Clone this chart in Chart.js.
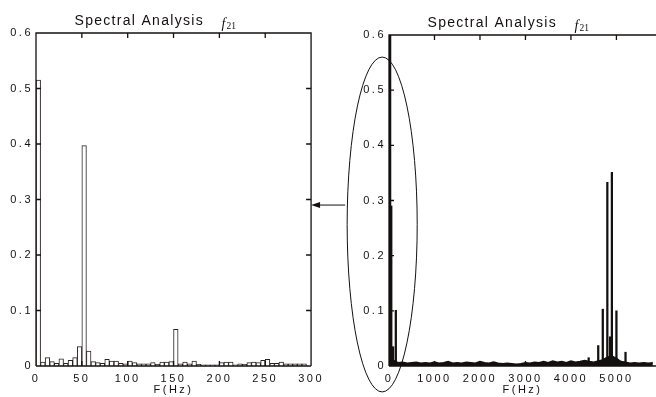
<!DOCTYPE html>
<html>
<head>
<meta charset="utf-8">
<script src="https://cdn.jsdelivr.net/npm/chart.js@4.4.0/dist/chart.umd.min.js"></script>
<style>
  html, body { margin: 0; padding: 0; background: #fff; }
  #wrap { position: relative; width: 656px; height: 397px; overflow: hidden; }
  #izq { position: absolute; left: 0; top: 0; }
  #der { position: absolute; left: 330px; top: 0; }
  #capa { position: absolute; left: 0; top: 0; pointer-events: none; }
</style>
</head>
<body>
<div id="wrap">
  <canvas id="izq" width="330" height="397"></canvas>
  <canvas id="der" width="326" height="397"></canvas>
  <canvas id="capa" width="656" height="397"></canvas>
</div>
<script>
// --- datos ---
// izquierda: detalle 0-300 Hz, barras de 5 Hz (inicio de cada bin)
const binsIzq = [0, 5, 10, 15, 20, 25, 30, 35, 40, 45, 50, 55, 60, 65, 70, 75, 80, 85, 90, 95,
  100, 105, 110, 115, 120, 125, 130, 135, 140, 145, 150, 155, 160, 165, 170, 175, 180, 185, 190, 195,
  200, 205, 210, 215, 220, 225, 230, 235, 240, 245, 250, 255, 260, 265, 270, 275, 280, 285, 290];
const ampIzq = [0.515, 0.007, 0.015, 0.008, 0.005, 0.013, 0.005, 0.010, 0.015, 0.035, 0.397, 0.027, 0.008, 0.006, 0.005, 0.012, 0.009, 0.009, 0.005, 0.004,
  0.009, 0.006, 0.004, 0.004, 0.004, 0.006, 0.003, 0.007, 0.007, 0.008, 0.066, 0.004, 0.007, 0.004, 0.009, 0.003, 0.002, 0.002, 0.002, 0.002,
  0.006, 0.007, 0.007, 0.002, 0.004, 0.003, 0.006, 0.007, 0.006, 0.010, 0.012, 0.005, 0.005, 0.007, 0.004, 0.004, 0.004, 0.004, 0.004];
const anchoBin = 5;

// derecha: espectro completo, piso de ruido cada 100 Hz + picos
const frecRuido = [0, 100, 200, 300, 400, 500, 600, 700, 800, 900, 1000, 1100, 1200, 1300, 1400, 1500, 1600, 1700, 1800, 1900,
  2000, 2100, 2200, 2300, 2400, 2500, 2600, 2700, 2800, 2900, 3000, 3100, 3200, 3300, 3400, 3500, 3600, 3700, 3800, 3900,
  4000, 4100, 4200, 4300, 4400, 4500, 4600, 4700, 4800, 4900, 5000, 5100, 5200, 5300, 5400, 5500, 5600, 5700, 5800];
const ampRuido = [0.012, 0.010, 0.006, 0.007, 0.005, 0.006, 0.007, 0.005, 0.006, 0.005, 0.007, 0.005, 0.006, 0.008, 0.005, 0.006, 0.005, 0.007, 0.006, 0.005,
  0.008, 0.006, 0.005, 0.007, 0.005, 0.004, 0.005, 0.004, 0.003, 0.004, 0.006, 0.005, 0.007, 0.006, 0.008, 0.006, 0.009, 0.007, 0.008, 0.006,
  0.009, 0.007, 0.008, 0.010, 0.008, 0.007, 0.009, 0.011, 0.016, 0.018, 0.014, 0.008, 0.007, 0.005, 0.006, 0.005, 0.006, 0.005, 0.006];
const frecPicos = [25, 50, 90, 150, 4390, 4600, 4700, 4800, 4860, 4900, 5000, 5200];
const ampPicos = [0.6, 0.29, 0.035, 0.101, 0.015, 0.037, 0.103, 0.333, 0.053, 0.351, 0.100, 0.025];

const ticksY = [0, 0.1, 0.2, 0.3, 0.4, 0.5, 0.6];
const ticksXIzq = [0, 50, 100, 150, 200, 250, 300];
const ticksXDer = [0, 1000, 2000, 3000, 4000, 5000];

const titulo = 'Spectral Analysis';
const tituloVar = 'f';
const tituloSub = '21';
const etiquetaX = 'F(Hz)';

// --- estilo ---
Chart.defaults.font.family = '"Liberation Sans", Arial, sans-serif';
Chart.defaults.font.size = 11;
Chart.defaults.color = '#111';

const tinta = '#141010';

const marco = {
  id: 'marco',
  beforeLayout(chart) { chart.ctx.letterSpacing = '2.5px'; },
  beforeDraw(chart) { chart.ctx.letterSpacing = '2.5px'; },
  afterDatasetsDraw(chart, args, opts) {
    const { ctx, chartArea: a, scales: { x, y } } = chart;
    ctx.save();
    ctx.strokeStyle = tinta;
    ctx.lineWidth = 1.3;
    ctx.beginPath();
    ctx.moveTo(a.left, a.bottom); ctx.lineTo(a.left, a.top); ctx.lineTo(a.right, a.top);
    if (opts.bordeDerecho) ctx.lineTo(a.right, a.bottom);
    ctx.moveTo(a.left, a.bottom); ctx.lineTo(a.right, a.bottom);
    const largo = 5;
    x.ticks.forEach(t => {
      const px = x.getPixelForValue(t.value);
      if (px <= a.left + 1 || px >= a.right - 1) return;
      ctx.moveTo(px, a.top); ctx.lineTo(px, a.top + largo);
      ctx.moveTo(px, a.bottom); ctx.lineTo(px, a.bottom - largo);
    });
    y.ticks.forEach(t => {
      const py = y.getPixelForValue(t.value);
      if (py <= a.top + 1 || py >= a.bottom - 1) return;
      ctx.moveTo(a.left, py); ctx.lineTo(a.left + largo, py);
      if (opts.bordeDerecho) { ctx.moveTo(a.right, py); ctx.lineTo(a.right - largo, py); }
    });
    ctx.stroke();

    // titulo con f21
    ctx.fillStyle = tinta;
    ctx.textAlign = 'left';
    ctx.textBaseline = 'alphabetic';
    ctx.letterSpacing = '1.3px';
    ctx.font = '14px "Liberation Sans", Arial, sans-serif';
    const tx = a.left + 38.5, ty = a.top - 8.5;
    ctx.fillText(titulo, tx, ty);
    ctx.letterSpacing = '0px';
    ctx.font = 'italic 14px "Liberation Serif", "Times New Roman", serif';
    ctx.fillText(tituloVar, tx + 147, ty + 3);
    ctx.font = '9.5px "Liberation Serif", "Times New Roman", serif';
    ctx.fillText(tituloSub, tx + 152, ty + 4.5);
    ctx.restore();
  }
};

function escalas(ticksX, maxX, anchoY) {
  return {
    x: {
      type: 'linear', min: 0, max: maxX, offset: false,
      grid: { display: false, drawTicks: false, offset: false }, border: { display: false },
      afterBuildTicks: s => { s.ticks = ticksX.map(v => ({ value: v })); },
      afterFit: s => { s.height = 31; },
      ticks: { padding: 6, maxRotation: 0, autoSkip: false, callback: v => String(v), color: tinta },
      title: { display: true, text: etiquetaX, padding: 0, color: tinta, font: { size: 11 } }
    },
    y: {
      min: 0, max: 0.6,
      grid: { display: false, drawTicks: false }, border: { display: false },
      afterBuildTicks: s => { s.ticks = ticksY.map(v => ({ value: v })); },
      afterFit: s => { s.width = anchoY; },
      ticks: { padding: 3, autoSkip: false, callback: v => String(v), color: tinta }
    }
  };
}

const comunes = {
  responsive: false,
  animation: false,
  events: [],
  plugins: { legend: { display: false }, tooltip: { enabled: false } }
};

const graf1 = new Chart(document.getElementById('izq').getContext('2d'), {
  type: 'bar',
  data: {
    datasets: [{
      data: binsIzq.map((f, i) => ({ x: f + anchoBin / 2, y: ampIzq[i] })),
      backgroundColor: '#ffffff',
      borderColor: '#2a2222',
      borderWidth: 1,
      barPercentage: 1,
      categoryPercentage: 1
    }]
  },
  options: Object.assign({}, comunes, {
    layout: { padding: { top: 33, right: 18, left: 0, bottom: 0 } },
    scales: escalas(ticksXIzq, 300, 36),
    plugins: Object.assign({}, comunes.plugins, { marco: { bordeDerecho: true } })
  }),
  plugins: [marco]
});

// ovalo que marca la zona ampliada (en unidades de los ejes)
const ovalo = { cx: -150, rx: 770, arriba: 0.56, abajo: -0.047 };
let ovaloIzq = 0;
const marcaOvalo = {
  id: 'marcaOvalo',
  afterDraw(chart) {
    const { ctx, scales: { x, y } } = chart;
    const cx = x.getPixelForValue(ovalo.cx);
    const rx = x.getPixelForValue(ovalo.cx + ovalo.rx) - cx;
    const y1 = y.getPixelForValue(ovalo.arriba), y2 = y.getPixelForValue(ovalo.abajo);
    ovaloIzq = cx - rx;
    ctx.save();
    ctx.strokeStyle = tinta;
    ctx.lineWidth = 1;
    ctx.beginPath();
    ctx.ellipse(cx, (y1 + y2) / 2, rx, (y2 - y1) / 2, 0, 0, Math.PI * 2);
    ctx.stroke();
    ctx.restore();
  }
};

const graf2 = new Chart(document.getElementById('der').getContext('2d'), {
  type: 'bar',
  data: {
    datasets: [{
      type: 'line',
      data: frecRuido.map((f, i) => ({ x: f, y: ampRuido[i] })),
      borderColor: tinta,
      backgroundColor: tinta,
      borderWidth: 1.5,
      pointRadius: 0,
      tension: 0,
      fill: 'origin',
      order: 2
    }, {
      data: frecPicos.map((f, i) => ({ x: f, y: ampPicos[i] })),
      backgroundColor: tinta,
      borderWidth: 0,
      barThickness: 1.6,
      order: 1
    }]
  },
  options: Object.assign({}, comunes, {
    layout: { padding: { top: 35, right: 0, left: 0, bottom: 0 } },
    scales: escalas(ticksXDer, 5870, 59),
    plugins: Object.assign({}, comunes.plugins, { marco: { bordeDerecho: false } })
  }),
  plugins: [marco, marcaOvalo]
});

// flecha entre las dos graficas
const flechaY = 0.29;
const capa = document.getElementById('capa').getContext('2d');
const py = graf1.scales.y.getPixelForValue(flechaY);
const punta = graf1.chartArea.right;
const cola = 330 + ovaloIzq - 2;
capa.strokeStyle = tinta;
capa.fillStyle = tinta;
capa.lineWidth = 1;
capa.beginPath();
capa.moveTo(cola, py);
capa.lineTo(punta + 8, py);
capa.stroke();
capa.beginPath();
capa.moveTo(punta, py);
capa.lineTo(punta + 9, py - 3);
capa.lineTo(punta + 9, py + 3);
capa.closePath();
capa.fill();
</script>
</body>
</html>
